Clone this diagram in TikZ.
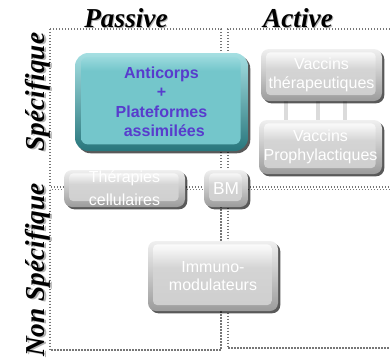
\documentclass[tikz,border=0pt]{standalone}
\usepackage{fontspec}
\setmainfont{Liberation Serif}
\newfontfamily\boxfont{Liberation Sans}
\usetikzlibrary{shadows,calc,backgrounds}

\definecolor{tealface}{RGB}{116,198,203}
\definecolor{teallight}{RGB}{165,223,226}
\definecolor{tealdark}{RGB}{40,118,124}
\definecolor{labelblue}{RGB}{88,60,205}
\definecolor{quadline}{RGB}{118,118,118}
\definecolor{greyface}{RGB}{212,212,212}
\definecolor{greyfacelow}{RGB}{206,206,206}
\definecolor{greyhigh}{RGB}{244,244,244}

% face shadings: the path spans 25bp (bottom) to 75bp (top)
\pgfdeclareverticalshading{tealfaceshade}{100bp}{%
  color(0bp)=(tealface); color(25bp)=(tealface); color(66bp)=(tealface);
  color(75bp)=(teallight); color(100bp)=(teallight)}
\pgfdeclareverticalshading{greyfaceshade}{100bp}{%
  color(0bp)=(greyfacelow); color(25bp)=(greyfacelow); color(56bp)=(greyface);
  color(69bp)=(greyhigh); color(75bp)=(white); color(100bp)=(white)}

\tikzset{
  quad/.style={draw=quadline, line width=0.8pt, dash pattern=on 0.8pt off 1.45pt},
  boxsize/.style 2 args={minimum width=#1*0.75pt, minimum height=#2*0.75pt, inner sep=0pt},
  bevelshadow/.style={drop shadow={shadow xshift=1.7pt, shadow yshift=-1.7pt, opacity=0.65, fill=black}},
  greybox/.style={rounded corners=6pt, top color=gray!12, bottom color=gray!78, bevelshadow,
    text=white, align=center, font=\boxfont\fontsize{12}{14}\selectfont,
    path picture={
      \shade[shading=greyfaceshade, rounded corners=3pt]
        ([xshift=3.8pt,yshift=-2.6pt]path picture bounding box.north west) rectangle
        ([xshift=-4.8pt,yshift=4.5pt]path picture bounding box.south east);
    }},
  tealbox/.style={rounded corners=10pt, top color=teallight, bottom color=tealdark, bevelshadow,
    text=labelblue, align=center, font=\boxfont\bfseries\fontsize{12}{14.6}\selectfont,
    path picture={
      \shade[shading=tealfaceshade, rounded corners=5pt]
        ([xshift=4.5pt,yshift=-3pt]path picture bounding box.north west) rectangle
        ([xshift=-5.5pt,yshift=5pt]path picture bounding box.south east);
    }},
  rung/.style={draw=gray!28, line width=3.4pt},
  title/.style={font=\fontsize{20.5}{24}\selectfont\bfseries\itshape, inner sep=0pt, anchor=base},
  titleshade/.style={title, text=black!30},
}

\begin{document}
\begin{tikzpicture}[x=0.75pt,y=-0.75pt]
\useasboundingbox (0,0) rectangle (390,358);

% quadrant frames
\draw[quad] (50,29) rectangle (221,187);
\draw[quad] (390,29) -- (228,29) -- (228,187) -- (390,187);
\draw[quad] (50,189.5) rectangle (221,350);
\draw[quad] (390,189.5) -- (228,189.5) -- (228,348) -- (390,348);

% axis titles with a soft offset shade
\node[titleshade] at (127,28) {Passive};
\node[title] (passive) at (126,27) {Passive};
\node[titleshade] at (299,28) {Active};
\node[title] (active) at (298,27) {Active};
\node[titleshade, rotate=90] at (46,93) {Spécifique};
\node[title, rotate=90] (spec) at (45,92) {Spécifique};
\node[titleshade, rotate=90] at (46,271) {Non Spécifique};
\node[title, rotate=90] (nonspec) at (45,270) {Non Spécifique};

% boxes
\node[greybox, boxsize={121}{52}] (vt) at (321.5,75) {Vaccins\\thérapeutiques};
\node[greybox, boxsize={123}{54}] (vp) at (320.5,147) {Vaccins\\Prophylactiques};
\node[tealbox, boxsize={173}{98}] (anti) at (161.5,102)
  {Anticorps\\+\\Plateformes\\\hspace*{0.35em}assimilées};
\node[greybox, boxsize={121}{37}] (cell) at (124.5,188.5) {\raisebox{4pt}{Thérapies}\\[-1pt]cellulaires};
\node[greybox, boxsize={44}{37}, font=\boxfont\fontsize{13}{15}\selectfont] (bm) at (226,188.5) {BM};
\node[greybox, boxsize={130}{70}] (immuno) at (213,276) {\raisebox{-2pt}{Immuno-}\\[1pt]modulateurs};

% links between the two vaccine boxes, kept behind the boxes
\begin{scope}[on background layer]
\draw[rung] ($(vt.south west)!0.207!(vt.south east)$) coordinate (r1) -- (r1 |- vp.north);
\draw[rung] ($(vt.south west)!0.471!(vt.south east)$) coordinate (r2) -- (r2 |- vp.north);
\draw[rung] ($(vt.south west)!0.694!(vt.south east)$) coordinate (r3) -- (r3 |- vp.north);
\end{scope}
\end{tikzpicture}
\end{document}
